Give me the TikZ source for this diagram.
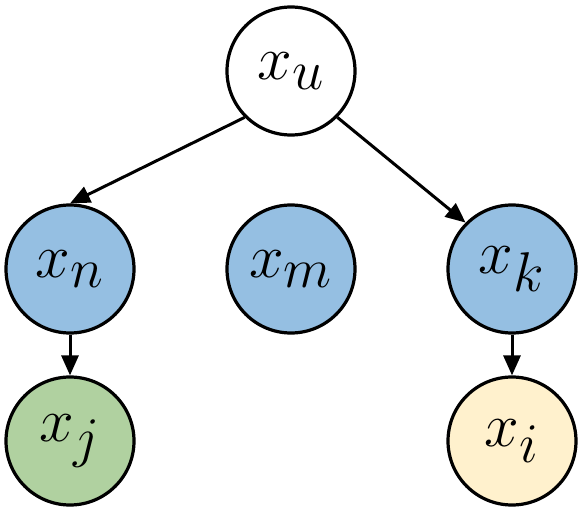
\documentclass[tikz,border=0pt]{standalone}
\usetikzlibrary{arrows.meta}
\definecolor{bluefill}{RGB}{149,191,226}
\definecolor{greenfill}{RGB}{176,209,160}
\definecolor{yellowfill}{RGB}{255,241,205}
\newcommand{\varlbl}[1]{\scalebox{2.5}{\Huge$x_{\scalebox{1.08}{$\scriptstyle #1$}}$}}
\begin{document}
\begin{tikzpicture}[x=1pt,y=-1pt,
  var/.style={circle,draw=black,line width=3.2pt,minimum size=128pt,inner sep=0pt},
  conn/.style={line width=3pt,-{Triangle[length=20pt,width=17pt]}}]
\useasboundingbox (0,0) rectangle (586,511);
\node[var,fill=white] (u) at (291,71) {\varlbl{u}};
\node[var,fill=bluefill] (n) at (70,269) {\varlbl{n}};
\node[var,fill=bluefill] (m) at (291,269) {\varlbl{m}};
\node[var,fill=bluefill] (k) at (512,269) {\varlbl{k}};
\node[var,fill=greenfill] (j) at (70,441) {\varlbl{j}};
\node[var,fill=yellowfill] (i) at (512,441) {\varlbl{i}};
\draw[conn] (u.south west) -- (n.north);
\draw[conn] (u.south east) -- (k.north west);
\draw[conn] (n.south) -- (j.north);
\draw[conn] (k.south) -- (i.north);
\end{tikzpicture}
\end{document}
